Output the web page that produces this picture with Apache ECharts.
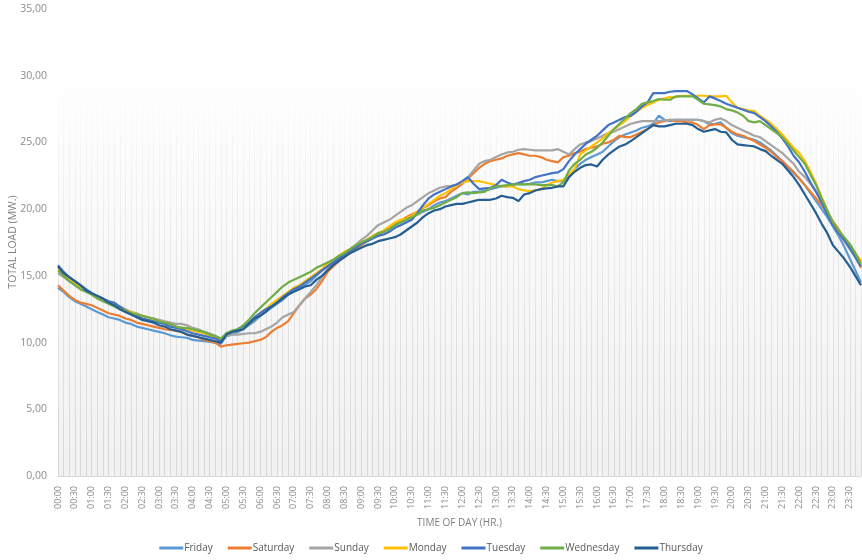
<!DOCTYPE html>
<html>
<head>
<meta charset="utf-8">
<script src="https://cdn.jsdelivr.net/npm/echarts@6/dist/echarts.min.js"></script>
<style>
  html, body { margin: 0; padding: 0; background: #fff; }
  #chart { width: 862px; height: 560px; }
</style>
</head>
<body>
<div id="chart"></div>
<script>
// time of day, every 10 minutes
var times = []
for (var h = 0; h < 24; h++) {
  for (var m = 0; m < 60; m += 10) {
    times.push((h < 10 ? '0' : '') + h + ':' + (m < 10 ? '0' : '') + m)
  }
}

var yTicks = [0, 5, 10, 15, 20, 25, 30, 35]

// one row per hour (:00 :10 :20 :30 :40 :50)
var friday = [
  14.1, 13.8, 13.4, 13.1, 12.9, 12.7,
  12.5, 12.3, 12.1, 11.9, 11.8, 11.7,
  11.5, 11.4, 11.2, 11.1, 11.0, 10.9,
  10.8, 10.7, 10.55, 10.45, 10.4, 10.35,
  10.2, 10.15, 10.1, 10.05, 10.0, 9.9,
  10.5, 10.6, 10.8, 11.0, 11.3, 11.6,
  12.0, 12.3, 12.6, 12.9, 13.2, 13.6,
  13.9, 14.1, 14.3, 14.6, 15.0, 15.4,
  15.8, 16.1, 16.3, 16.6, 16.9, 17.1,
  17.3, 17.6, 17.8, 18.0, 18.3, 18.5,
  18.8, 19.0, 19.2, 19.4, 19.6, 19.8,
  20.0, 20.3, 20.5, 20.6, 20.8, 21.0,
  21.2, 21.1, 21.3, 21.3, 21.4, 21.5,
  21.6, 21.7, 21.7, 21.8, 21.9, 21.85,
  21.9, 22.0, 22.0, 22.1, 22.2, 22.1,
  22.1, 22.5, 23.0, 23.4, 23.7, 23.9,
  24.1, 24.3, 24.7, 25.1, 25.4, 25.6,
  25.75, 25.9, 26.1, 26.2, 26.4, 27.0,
  26.7, 26.6, 26.7, 26.7, 26.7, 26.7,
  26.7, 26.6, 26.35, 26.4, 26.5, 26.1,
  25.7, 25.5, 25.4, 25.3, 25.2, 25.0,
  24.7, 24.4, 24.0, 23.6, 23.1, 22.7,
  22.3, 21.8, 21.2, 20.6, 20.0, 19.4,
  18.7, 18.0, 17.2, 16.3, 15.4, 14.5
]
var saturday = [
  14.3, 13.9, 13.5, 13.2, 13.0, 12.9,
  12.8, 12.6, 12.4, 12.2, 12.1, 12.0,
  11.8, 11.7, 11.5, 11.4, 11.3, 11.2,
  11.1, 11.0, 10.95, 10.9, 10.8, 10.6,
  10.5, 10.4, 10.2, 10.1, 10.0, 9.7,
  9.8, 9.85, 9.9, 9.95, 10.0, 10.1,
  10.2, 10.4, 10.8, 11.1, 11.3, 11.6,
  12.2, 12.8, 13.3, 13.6, 14.0, 14.6,
  15.3, 15.7, 16.1, 16.4, 16.7, 17.0,
  17.3, 17.6, 17.9, 18.1, 18.3, 18.6,
  18.9, 19.1, 19.4, 19.6, 19.8, 20.1,
  20.3, 20.6, 20.8, 20.9, 21.3, 21.6,
  21.9, 22.3, 22.7, 23.1, 23.4, 23.6,
  23.7, 23.8, 24.0, 24.1, 24.2, 24.1,
  24.0, 24.0, 23.9, 23.7, 23.6, 23.5,
  23.9, 24.0, 24.2, 24.3, 24.5, 24.6,
  24.7, 24.9, 25.0, 25.2, 25.5, 25.4,
  25.4, 25.6, 25.8, 26.0, 26.3, 26.5,
  26.6, 26.7, 26.6, 26.6, 26.5, 26.5,
  26.3, 26.0, 26.3, 26.35, 26.35, 26.1,
  25.8, 25.6, 25.5, 25.3, 25.1, 24.85,
  24.6, 24.3, 23.9, 23.6, 23.2, 22.8,
  22.3, 21.8, 21.3, 20.8, 20.3, 19.7,
  19.1, 18.5, 17.8, 17.2, 16.4, 15.6
]
var sunday = [
  15.2, 14.9, 14.6, 14.3, 14.0, 13.8,
  13.6, 13.4, 13.2, 13.0, 12.8, 12.7,
  12.5, 12.3, 12.2, 12.0, 11.9, 11.8,
  11.7, 11.6, 11.5, 11.4, 11.4, 11.3,
  11.1, 11.0, 10.8, 10.7, 10.5, 10.3,
  10.5, 10.6, 10.6, 10.65, 10.7, 10.7,
  10.8, 11.0, 11.2, 11.5, 11.9, 12.1,
  12.3, 12.8, 13.3, 13.8, 14.3, 14.9,
  15.5, 15.9, 16.3, 16.7, 17.0, 17.3,
  17.7, 18.0, 18.4, 18.8, 19.0, 19.2,
  19.5, 19.8, 20.1, 20.3, 20.6, 20.9,
  21.2, 21.4, 21.6, 21.7, 21.75, 21.85,
  22.0, 22.4, 22.9, 23.4, 23.6, 23.7,
  23.9, 24.1, 24.25, 24.3, 24.45, 24.5,
  24.45, 24.4, 24.4, 24.4, 24.4, 24.5,
  24.3, 24.1, 24.5, 24.85, 25.0, 25.1,
  25.3, 25.5, 25.7, 25.8, 26.0, 26.2,
  26.4, 26.5, 26.6, 26.6, 26.6, 26.6,
  26.65, 26.7, 26.7, 26.7, 26.7, 26.7,
  26.7, 26.6, 26.5, 26.7, 26.8, 26.6,
  26.3, 26.1, 25.9, 25.7, 25.5, 25.4,
  25.1, 24.8, 24.5, 24.2, 23.8, 23.4,
  22.8, 22.4, 21.9, 21.3, 20.5, 19.7,
  18.8, 18.2, 17.6, 17.0, 16.4, 15.8
]
var monday = [
  15.5, 15.1, 14.8, 14.5, 14.2, 13.9,
  13.6, 13.4, 13.2, 13.0, 12.8, 12.6,
  12.4, 12.3, 12.1, 12.0, 11.9, 11.7,
  11.6, 11.5, 11.3, 11.2, 11.1, 11.0,
  10.9, 10.8, 10.7, 10.5, 10.4, 10.2,
  10.6, 10.8, 10.9, 11.1, 11.4, 11.8,
  12.2, 12.5, 12.9, 13.2, 13.5, 13.8,
  14.1, 14.3, 14.6, 14.9, 15.2, 15.5,
  15.9, 16.2, 16.5, 16.8, 17.0, 17.2,
  17.5, 17.7, 18.0, 18.2, 18.4, 18.7,
  19.0, 19.2, 19.3, 19.5, 19.8, 20.1,
  20.4, 20.7, 21.0, 21.2, 21.5, 21.8,
  22.0, 22.1, 22.1, 22.1, 22.0, 21.9,
  21.8, 21.7, 21.7, 21.7, 21.5, 21.4,
  21.35, 21.4, 21.5, 21.8, 22.0, 22.1,
  22.2, 22.6, 23.0, 24.1, 24.4, 24.7,
  25.0, 25.3, 25.7, 26.0, 26.3, 26.6,
  27.0, 27.3, 27.6, 27.8, 28.0, 28.2,
  28.3, 28.4, 28.4, 28.5, 28.5, 28.5,
  28.5, 28.5, 28.45, 28.45, 28.45, 28.5,
  28.0, 27.6, 27.5, 27.4, 27.35, 27.0,
  26.7, 26.4, 26.0, 25.6, 25.1, 24.6,
  24.2, 23.6, 22.8, 21.9, 20.9, 19.9,
  19.0, 18.4, 17.8, 17.3, 16.7, 16.1
]
var tuesday = [
  15.8, 15.3, 14.9, 14.6, 14.3, 14.0,
  13.7, 13.5, 13.3, 13.1, 13.0, 12.7,
  12.4, 12.2, 12.0, 11.8, 11.7, 11.6,
  11.5, 11.4, 11.2, 11.1, 11.0, 10.85,
  10.7, 10.6, 10.5, 10.4, 10.3, 10.1,
  10.7, 10.8, 11.0, 11.2, 11.5, 11.9,
  12.2, 12.5, 12.7, 13.0, 13.4, 13.7,
  14.0, 14.2, 14.5, 14.8, 15.1, 15.4,
  15.7, 16.0, 16.3, 16.6, 16.9, 17.1,
  17.4, 17.6, 17.8, 18.0, 18.1, 18.3,
  18.6, 18.8, 19.0, 19.2, 19.7, 20.3,
  20.8, 21.1, 21.3, 21.5, 21.7, 21.85,
  22.1, 22.4, 21.9, 21.5, 21.55, 21.6,
  21.8, 22.2, 22.0, 21.85, 21.95, 22.1,
  22.2, 22.4, 22.5, 22.6, 22.7, 22.75,
  23.0, 23.6, 24.1, 24.5, 24.9, 25.2,
  25.5, 25.9, 26.3, 26.5, 26.7, 26.9,
  27.0, 27.3, 27.7, 28.0, 28.7, 28.7,
  28.7, 28.8, 28.85, 28.85, 28.85, 28.6,
  28.3, 28.0, 28.45, 28.3, 28.1, 27.9,
  27.75, 27.6, 27.45, 27.3, 27.2, 26.9,
  26.6, 26.2, 25.8, 25.3, 24.7, 24.0,
  23.5, 22.8, 22.0, 21.3, 20.5, 19.6,
  18.8, 18.2, 17.7, 17.1, 16.4, 15.7
]
var wednesday = [
  15.4, 15.0, 14.6, 14.3, 14.0, 13.8,
  13.6, 13.3, 13.1, 12.9, 12.7, 12.5,
  12.4, 12.2, 12.1, 12.0, 11.9, 11.8,
  11.6, 11.5, 11.4, 11.2, 11.1, 11.1,
  11.0, 10.9, 10.8, 10.6, 10.5, 10.3,
  10.7, 10.9, 11.0, 11.3, 11.7, 12.2,
  12.6, 13.0, 13.4, 13.8, 14.2, 14.5,
  14.7, 14.9, 15.1, 15.3, 15.6, 15.8,
  16.0, 16.2, 16.5, 16.7, 17.0, 17.3,
  17.5, 17.7, 17.9, 18.2, 18.3, 18.5,
  18.8, 19.0, 19.2, 19.4, 19.6, 19.9,
  20.0, 20.1, 20.3, 20.5, 20.7, 20.9,
  21.2, 21.25, 21.2, 21.25, 21.3, 21.6,
  21.7, 21.75, 21.8, 21.85, 21.85, 21.85,
  21.85, 21.85, 21.8, 21.8, 21.8, 21.7,
  22.0, 22.9, 23.4, 23.7, 24.1, 24.3,
  24.6, 25.0, 25.5, 26.0, 26.4, 26.8,
  27.2, 27.5, 27.9, 28.0, 28.1, 28.25,
  28.2, 28.2, 28.45, 28.45, 28.45, 28.45,
  28.2, 27.9, 27.85, 27.8, 27.7, 27.5,
  27.4, 27.25, 27.0, 26.6, 26.5, 26.6,
  26.3, 26.0, 25.7, 25.4, 24.9, 24.4,
  23.9, 23.4, 22.6, 21.8, 20.8, 19.9,
  19.0, 18.4, 17.9, 17.4, 16.7, 15.9
]
var thursday = [
  15.7, 15.2, 14.9, 14.6, 14.3, 13.9,
  13.7, 13.5, 13.3, 13.0, 12.8, 12.5,
  12.3, 12.1, 11.9, 11.7, 11.6, 11.5,
  11.3, 11.2, 11.0, 10.9, 10.8, 10.6,
  10.5, 10.4, 10.3, 10.2, 10.1, 10.0,
  10.6, 10.8, 10.9, 11.0, 11.4, 11.8,
  12.0, 12.3, 12.7, 13.0, 13.3, 13.6,
  13.8, 14.0, 14.2, 14.3, 14.7, 15.0,
  15.4, 15.8, 16.1, 16.4, 16.7, 16.9,
  17.1, 17.3, 17.4, 17.6, 17.7, 17.8,
  17.9, 18.1, 18.4, 18.7, 19.0, 19.4,
  19.7, 19.9, 20.0, 20.2, 20.3, 20.4,
  20.4, 20.5, 20.6, 20.7, 20.7, 20.7,
  20.8, 21.0, 20.9, 20.85, 20.6, 21.1,
  21.2, 21.4, 21.5, 21.55, 21.6, 21.7,
  21.7, 22.4, 22.8, 23.1, 23.3, 23.35,
  23.2, 23.7, 24.1, 24.4, 24.7, 24.85,
  25.1, 25.4, 25.7, 26.0, 26.3, 26.2,
  26.2, 26.3, 26.4, 26.4, 26.4, 26.3,
  26.0, 25.8, 25.9, 26.0, 25.8, 25.75,
  25.2, 24.85, 24.8, 24.75, 24.7, 24.5,
  24.35, 24.0, 23.7, 23.4, 22.9, 22.4,
  21.8, 21.1, 20.4, 19.7, 18.9, 18.2,
  17.3, 16.8, 16.3, 15.7, 15.0, 14.3
]

var names = ['Friday', 'Saturday', 'Sunday', 'Monday', 'Tuesday', 'Wednesday', 'Thursday']
var colors = ['#5B9BD5', '#ED7D31', '#A5A5A5', '#FFC000', '#4472C4', '#70AD47', '#255E91']
var values = [friday, saturday, sunday, monday, tuesday, wednesday, thursday]

var chart = echarts.init(document.getElementById('chart'))

var series = names.map(function (name, i) {
  return {
    name: name,
    type: 'line',
    data: values[i],
    showSymbol: false,
    symbol: 'none',
    lineStyle: { width: 2.2, color: colors[i] },
    itemStyle: { color: colors[i] }
  }
})

chart.setOption({
  animation: false,
  textStyle: { fontFamily: 'Open Sans' },
  grid: {
    left: 58,
    right: 1,
    top: 9,
    bottom: 84,
    outerBoundsMode: 'none',
    show: true,
    borderWidth: 0,
    backgroundColor: new echarts.graphic.LinearGradient(0, 0, 0, 1, [
      { offset: 0, color: '#ffffff' },
      { offset: 0.1, color: '#ffffff' },
      { offset: 1, color: '#f1f1f1' }
    ])
  },
  // y axis title, placed by hand so it sits where the original has it
  graphic: [{
    type: 'text',
    x: 13,
    y: 242,
    rotation: Math.PI / 2,
    style: {
      text: 'TOTAL LOAD (MW.)',
      fill: '#7f7f7f',
      font: '10.5px "Open Sans"',
      align: 'center',
      verticalAlign: 'middle'
    }
  }],
  legend: {
    bottom: 2,
    left: 'center',
    itemWidth: 24,
    itemHeight: 3,
    itemGap: 15,
    icon: 'rect',
    textStyle: { color: '#595959', fontSize: 10, padding: [0, 0, 0, -4] },
    data: names
  },
  xAxis: {
    type: 'category',
    boundaryGap: false,
    data: times,
    name: 'TIME OF DAY (HR.)',
    nameLocation: 'middle',
    nameGap: 42,
    nameTextStyle: { color: '#7f7f7f', fontSize: 10 },
    axisLine: { lineStyle: { color: '#d9d9d9', width: 1 } },
    axisTick: { show: false },
    axisLabel: { interval: 2, rotate: 90, color: '#8c8c8c', fontSize: 9, margin: 10 },
    splitLine: {
      show: true,
      interval: 0,
      lineStyle: {
        width: 1,
        color: new echarts.graphic.LinearGradient(0, 90, 0, 476, [
          { offset: 0, color: 'rgba(215,215,215,0)' },
          { offset: 0.35, color: 'rgba(215,215,215,0.4)' },
          { offset: 1, color: 'rgba(215,215,215,1)' }
        ], true)
      }
    }
  },
  yAxis: {
    type: 'value',
    min: yTicks[0],
    max: yTicks[yTicks.length - 1],
    interval: 5,
    axisLine: { show: false },
    axisTick: { show: false },
    splitLine: { show: false },
    axisLabel: {
      color: '#8c8c8c',
      fontSize: 10.5,
      margin: 11,
      formatter: function (v) { return v.toFixed(2).replace('.', ',') }
    }
  },
  series: series
})
</script>
</body>
</html>
